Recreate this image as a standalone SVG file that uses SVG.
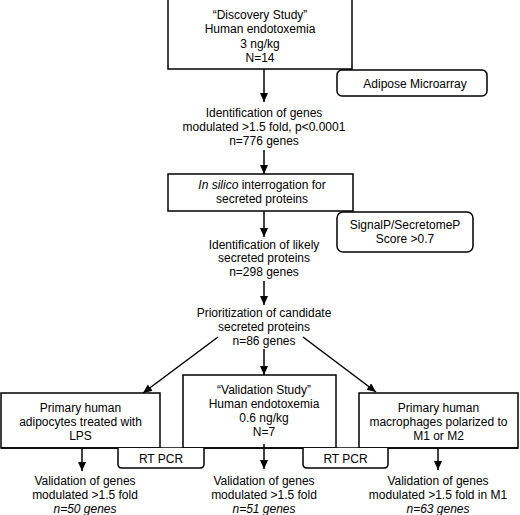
<svg xmlns="http://www.w3.org/2000/svg" width="520" height="515" viewBox="0 0 520 515">
<defs>
<style>
text{font-family:"Liberation Sans",Arial,sans-serif;font-size:12px;fill:#000;text-anchor:middle}
.box{fill:#fff;stroke:#000;stroke-width:1.5}
.conn line,.conn path{stroke:#000;stroke-width:1.5;fill:none}
.it{font-style:italic}
</style>
<marker id="ah" markerUnits="userSpaceOnUse" markerWidth="10" markerHeight="9" refX="9" refY="4" orient="auto">
<path d="M0,0 L9,4 L0,8 z" fill="#000"/>
</marker>
</defs>
<rect width="520" height="515" fill="#fff"/>

<g id="discovery">
<rect class="box" x="168" y="-2" width="184" height="71"/>
<text x="260" y="19">“Discovery Study”</text>
<text x="260" y="33">Human endotoxemia</text>
<text x="260" y="47.5">3 ng/kg</text>
<text x="260" y="62">N=14</text>
</g>

<g id="adipose-microarray">
<rect class="box" x="337" y="70" width="150" height="26" rx="5"/>
<text x="415" y="87.5">Adipose Microarray</text>
</g>

<g id="identification-genes">
<text x="264" y="117">Identification of genes</text>
<text x="264" y="131">modulated &gt;1.5 fold, p&lt;0.0001</text>
<text x="264" y="145">n=776 genes</text>
</g>

<g id="in-silico">
<rect class="box" x="168" y="174" width="185" height="37"/>
<text x="262" y="188.5"><tspan class="it">In silico</tspan> interrogation for</text>
<text x="262" y="203">secreted proteins</text>
</g>

<g id="signalp">
<rect class="box" x="337" y="212" width="136" height="40" rx="6"/>
<text x="405" y="229">SignalP/SecretomeP</text>
<text x="405" y="243">Score &gt;0.7</text>
</g>

<g id="likely-secreted">
<text x="264" y="248.5">Identification of likely</text>
<text x="264" y="262">secreted proteins</text>
<text x="264" y="276">n=298 genes</text>
</g>

<g id="prioritization">
<text x="264" y="317">Prioritization of candidate</text>
<text x="264" y="331">secreted proteins</text>
<text x="264" y="345">n=86 genes</text>
</g>

<g id="adipocytes">
<rect class="box" x="1" y="393" width="159" height="55"/>
<text x="80.5" y="411.5">Primary human</text>
<text x="80.5" y="425.5">adipocytes treated with</text>
<text x="80.5" y="439.5">LPS</text>
</g>

<g id="validation-study">
<rect class="box" x="183" y="375" width="153" height="73"/>
<text x="264" y="394">“Validation Study”</text>
<text x="264" y="408">Human endotoxemia</text>
<text x="264" y="422">0.6 ng/kg</text>
<text x="264" y="436">N=7</text>
</g>

<g id="macrophages">
<rect class="box" x="359" y="393" width="159" height="55"/>
<text x="438.5" y="411.5">Primary human</text>
<text x="438.5" y="425.5">macrophages polarized to</text>
<text x="438.5" y="439.5">M1 or M2</text>
</g>

<g id="baseline">
<line x1="1" y1="448" x2="518" y2="448" stroke="#000" stroke-width="1.5"/>
</g>

<g id="rtpcr-left">
<path class="box" d="M118,448 L118,464 Q118,468 122,468 L200,468 Q204,468 204,464 L204,448"/>
<text x="161" y="463">RT PCR</text>
</g>

<g id="rtpcr-right">
<path class="box" d="M303,448 L303,464 Q303,468 307,468 L384,468 Q388,468 388,464 L388,448"/>
<text x="345.5" y="463">RT PCR</text>
</g>

<g id="result-left">
<text x="85" y="485">Validation of genes</text>
<text x="85" y="499">modulated &gt;1.5 fold</text>
<text x="85" y="513" class="it">n=50 genes</text>
</g>

<g id="result-middle">
<text x="264" y="485">Validation of genes</text>
<text x="264" y="499">modulated &gt;1.5 fold</text>
<text x="264" y="513" class="it">n=51 genes</text>
</g>

<g id="result-right">
<text x="438" y="485">Validation of genes</text>
<text x="438" y="499">modulated &gt;1.5 fold in M1</text>
<text x="438" y="513" class="it">n=63 genes</text>
</g>

<g id="connectors" class="conn">
<line x1="264" y1="69" x2="264" y2="102" marker-end="url(#ah)"/>
<line x1="264" y1="150" x2="264" y2="174" marker-end="url(#ah)"/>
<line x1="264" y1="211" x2="264" y2="237" marker-end="url(#ah)"/>
<line x1="264" y1="281" x2="264" y2="305" marker-end="url(#ah)"/>
<line x1="264" y1="349" x2="264" y2="375" marker-end="url(#ah)"/>
<line x1="218" y1="337" x2="143" y2="393" marker-end="url(#ah)"/>
<line x1="303" y1="337" x2="376" y2="392" marker-end="url(#ah)"/>
<line x1="82" y1="448" x2="82" y2="471" marker-end="url(#ah)"/>
<line x1="264" y1="444" x2="264" y2="469" marker-end="url(#ah)"/>
<line x1="438" y1="448" x2="438" y2="470" marker-end="url(#ah)"/>
</g>
</svg>
